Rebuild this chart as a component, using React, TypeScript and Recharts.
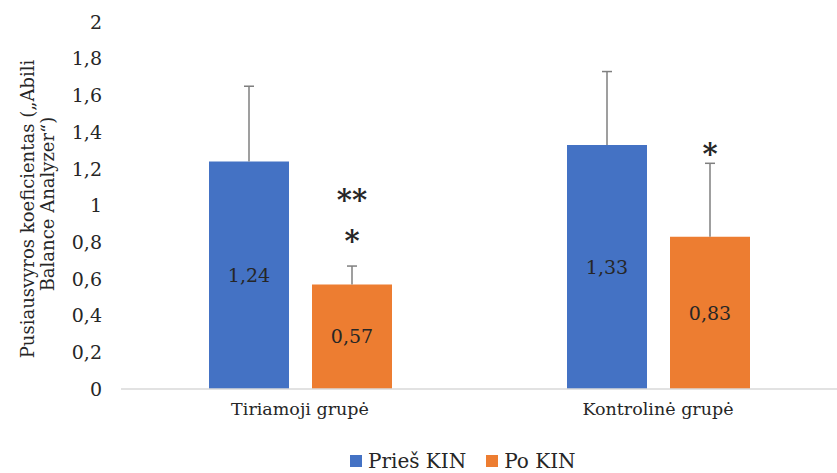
import React from 'react';
import {
  BarChart,
  Bar,
  XAxis,
  YAxis,
  LabelList,
  Legend,
} from 'recharts';

// Values
const groups = ['Tiriamoji grupė', 'Kontrolinė grupė'];
const beforeValues = [1.24, 1.33];
const afterValues = [0.57, 0.83];
const beforeErrors = [0.41, 0.4];
const afterErrors = [0.1, 0.4];
// significance marks above the "Po KIN" bars, level = y-axis value of the mark centre
const afterMarks = [
  [
    { text: '**', level: 1.05 },
    { text: '*', level: 0.83 },
  ],
  [{ text: '*', level: 1.3 }],
];
const yTicks = [0, 0.2, 0.4, 0.6, 0.8, 1, 1.2, 1.4, 1.6, 1.8, 2];

const data = groups.map((g, i) => ({
  group: g,
  before: beforeValues[i],
  after: afterValues[i],
}));

const BLUE = '#4472C4';
const ORANGE = '#ED7D31';
const FONT = '"DejaVu Serif", "Liberation Serif", Tinos, serif';
const TEXT = '#262626';

const fmt = (v: number) => String(v).replace('.', ',');

// upward-only error whisker with a cap, drawn from the bar's own geometry
const makeWhisker = (errors: number[]) => (props: any) => {
  const { x, y, width, height, value, index } = props;
  const perUnit = height / value;
  const cx = x + width / 2;
  const top = y - errors[index] * perUnit;
  return (
    <g stroke="#7F7F7F" strokeWidth={1.5}>
      <line x1={cx} y1={y} x2={cx} y2={top} />
      <line x1={cx - 5} y1={top} x2={cx + 5} y2={top} />
    </g>
  );
};

const MarksLabel = (props: any) => {
  const { x, y, width, height, value, index } = props;
  const marks = afterMarks[index] || [];
  const perUnit = height / value;
  const base = y + height;
  return (
    <g>
      {marks.map((m, k) => (
        <text
          key={k}
          x={x + width / 2}
          y={base - m.level * perUnit}
          dy={14}
          textAnchor="middle"
          fontFamily={FONT}
          fontWeight="bold"
          fontSize={29}
          fill={TEXT}
        >
          {m.text}
        </text>
      ))}
    </g>
  );
};

const renderLegend = () => (
  <div
    style={{
      display: 'flex',
      alignItems: 'center',
      fontFamily: FONT,
      fontSize: 20,
      color: TEXT,
    }}
  >
    <span style={{ display: 'inline-block', width: 12, height: 12, background: BLUE, marginRight: 6 }} />
    <span style={{ marginRight: 20 }}>Prieš KIN</span>
    <span style={{ display: 'inline-block', width: 12, height: 12, background: ORANGE, marginRight: 6 }} />
    <span>Po KIN</span>
  </div>
);

const YLabel = () => (
  <g fontFamily={FONT} fontSize={18} fill={TEXT}>
    <text transform="translate(27, 209) rotate(-90)" textAnchor="middle" dominantBaseline="central">
      Pusiausvyros koeficientas („Abili
    </text>
    <text transform="translate(47, 204) rotate(-90)" textAnchor="middle" dominantBaseline="central">
      Balance Analyzer“)
    </text>
  </g>
);

export default function App() {
  return (
    <div style={{ position: 'absolute', left: 0, top: 0, width: 837, height: 473, background: '#fff', fontFamily: FONT }}>
      <BarChart
        width={837}
        height={473}
        data={data}
        margin={{ top: 22, right: 0, left: 0, bottom: 0 }}
        barGap={23}
        barSize={80}
      >
        <XAxis
          dataKey="group"
          height={60}
          axisLine={{ stroke: '#D9D9D9', strokeWidth: 1.5 }}
          tickLine={false}
          tickSize={0}
          tickMargin={14}
          tick={{ fontFamily: FONT, fontSize: 17.5, fill: TEXT }}
        />
        <YAxis
          width={121}
          domain={[0, 2]}
          ticks={yTicks}
          interval={0}
          axisLine={false}
          tickLine={false}
          tickSize={0}
          tickMargin={19}
          tickFormatter={fmt}
          tick={{ fontFamily: FONT, fontSize: 19, fill: TEXT }}
        />
        <Legend
          verticalAlign="bottom"
          content={renderLegend}
          wrapperStyle={{ left: 350, bottom: 0, width: 'auto', height: 24 }}
        />
        <Bar dataKey="before" fill={BLUE} isAnimationActive={false}>
          <LabelList dataKey="before" content={makeWhisker(beforeErrors)} />
          <LabelList
            dataKey="before"
            position="center"
            formatter={fmt}
            style={{ fontFamily: FONT, fontSize: 19, fill: TEXT }}
          />
        </Bar>
        <Bar dataKey="after" fill={ORANGE} isAnimationActive={false}>
          <LabelList dataKey="after" content={makeWhisker(afterErrors)} />
          <LabelList
            dataKey="after"
            position="center"
            formatter={fmt}
            style={{ fontFamily: FONT, fontSize: 19, fill: TEXT }}
          />
          <LabelList dataKey="after" content={MarksLabel} />
        </Bar>
        <YLabel />
      </BarChart>
    </div>
  );
}
